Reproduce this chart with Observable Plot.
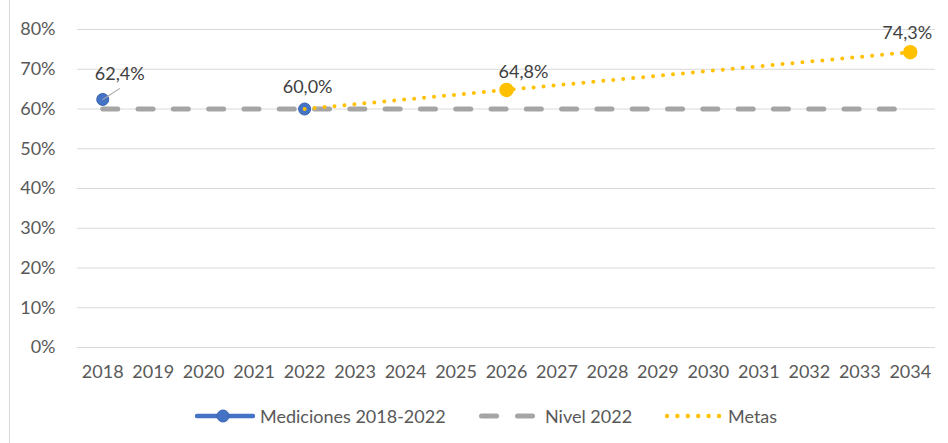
<!DOCTYPE html>
<html>
<head>
<meta charset="utf-8">
<script src="https://cdn.jsdelivr.net/npm/d3@7"></script>
<script src="https://cdn.jsdelivr.net/npm/@observablehq/plot@0.6"></script>
<style>
  html, body { margin: 0; padding: 0; background: #fff; }
  #wrap { position: relative; width: 948px; height: 443px; font-family: Lato, "Open Sans", sans-serif; }
  #border { position: absolute; left: 9px; top: 0; width: 1px; height: 443px; background: #d9d9d9; }
  #chart { position: absolute; left: 0; top: 0; }
  #legend { position: absolute; left: 0; top: 392px; width: 948px; height: 48px; font-size: 18px; color: #595959; white-space: nowrap; }
  #legend .item { position: absolute; top: 0; height: 48px; display: flex; align-items: center; }
  #legend svg { display: block; }
</style>
</head>
<body>
<div id="wrap">
  <div id="border"></div>
  <div id="chart"></div>
  <div id="legend"></div>
</div>
<script>
// ---- data ----
const years = ["2018","2019","2020","2021","2022","2023","2024","2025","2026","2027","2028","2029","2030","2031","2032","2033","2034"];
const medicionesYears = ["2018", "2022"];
const medicionesValues = [62.4, 60.0];
const nivelValue = 60.0;
const metasYears = ["2022", "2026", "2034"];
const metasValues = [60.0, 64.8, 74.3];
const metasMarkerYears = ["2026", "2034"];
const yTicks = [0, 10, 20, 30, 40, 50, 60, 70, 80];
const seriesNames = ["Mediciones 2018-2022", "Nivel 2022", "Metas"];

// ---- tables ----
const mediciones = medicionesYears.map((y, i) => ({year: y, value: medicionesValues[i]}));
const nivel = years.map(y => ({year: y, value: nivelValue}));
const metas = metasYears.map((y, i) => ({year: y, value: metasValues[i]}));
const metasMarkers = metas.filter(d => metasMarkerYears.includes(d.year));
const fmt = v => v.toFixed(1).replace(".", ",") + "%";

const BLUE = "#4472C4", GRAY = "#A5A5A5", GOLD = "#FFC000";
const labelStyle = {text: d => fmt(d.value), fill: "#404040", fontSize: 18, fontFamily: "Lato, sans-serif"};

const chart = Plot.plot({
  width: 948,
  height: 392,
  marginLeft: 77,
  marginRight: 13,
  marginTop: 29,
  marginBottom: 45,
  style: {fontFamily: "Lato, sans-serif", fontSize: "18px", color: "#595959", background: "transparent"},
  x: {type: "point", domain: years, padding: 0.5, round: false, label: null},
  y: {domain: [0, 80], label: null},
  marks: [
    Plot.ruleY(yTicks, {stroke: "#d9d9d9", strokeWidth: 1}),
    Plot.axisX({tickSize: 0, tickPadding: 18, fill: "#595959", fontSize: 18, label: null}),
    Plot.axisY(yTicks, {tickSize: 0, tickPadding: 22, tickFormat: d => d + "%", fill: "#595959", fontSize: 18, label: null}),
    Plot.lineY(nivel, {x: "year", y: "value", stroke: GRAY, strokeWidth: 5, strokeDasharray: "15,20.3", strokeLinecap: "round"}),
    Plot.dot(mediciones, {x: "year", y: "value", r: 6, fill: BLUE, stroke: "#3a63ad", strokeWidth: 1}),
    Plot.vector(mediciones.slice(0, 1), {x: "year", y: "value", length: 20, rotate: 57, anchor: "start", stroke: "#a6a6a6", strokeWidth: 1,
      shape: {draw(context, l) { context.moveTo(0, 0); context.lineTo(0, -l); }}}),
    Plot.lineY(metas, {x: "year", y: "value", stroke: GOLD, strokeWidth: 4, strokeDasharray: "0,10", strokeLinecap: "round"}),
    Plot.dot(metasMarkers, {x: "year", y: "value", r: 6.5, fill: GOLD, stroke: GOLD}),
    Plot.text(mediciones.slice(0, 1), {x: "year", y: "value", dx: 17, dy: -25, ...labelStyle}),
    Plot.text(mediciones.slice(1, 2), {x: "year", y: "value", dx: 3, dy: -22, ...labelStyle}),
    Plot.text(metasMarkers.slice(0, 1), {x: "year", y: "value", dx: 17, dy: -18, ...labelStyle}),
    Plot.text(metasMarkers.slice(1, 2), {x: "year", y: "value", dx: -3, dy: -19, ...labelStyle})
  ]
});
document.getElementById("chart").appendChild(chart);

// ---- legend ----
const ns = "http://www.w3.org/2000/svg";
function sample(kind) {
  const s = document.createElementNS(ns, "svg");
  s.setAttribute("height", 14);
  if (kind === 0) {
    s.setAttribute("width", 60);
    s.innerHTML = `<line x1="2" x2="58" y1="7" y2="7" stroke="${BLUE}" stroke-width="4.5" stroke-linecap="round"/><circle cx="28" cy="7" r="6" fill="${BLUE}" stroke="#3a63ad"/>`;
  } else if (kind === 1) {
    s.setAttribute("width", 60);
    s.innerHTML = `<line x1="4.5" x2="19.5" y1="7" y2="7" stroke="${GRAY}" stroke-width="5" stroke-linecap="round"/><line x1="40.5" x2="55.5" y1="7" y2="7" stroke="${GRAY}" stroke-width="5" stroke-linecap="round"/>`;
  } else {
    s.setAttribute("width", 58);
    s.innerHTML = [0,1,2,3,4,5].map(i => `<circle cx="${4 + i * 10.4}" cy="7" r="2.2" fill="${GOLD}"/>`).join("");
  }
  return s;
}
const legend = document.getElementById("legend");
const itemLefts = [195, 477, 663];
const textGaps = [5, 8, 7];
seriesNames.forEach((name, i) => {
  const item = document.createElement("div");
  item.className = "item";
  item.style.left = itemLefts[i] + "px";
  item.appendChild(sample(i));
  const t = document.createElement("span");
  t.textContent = name;
  t.style.marginLeft = textGaps[i] + "px";
  item.appendChild(t);
  legend.appendChild(item);
});
</script>
</body>
</html>
